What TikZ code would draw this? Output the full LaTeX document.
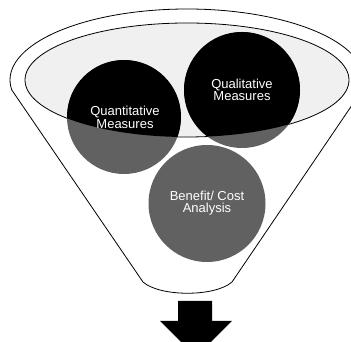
\documentclass[tikz,border=0pt]{standalone}
\usepackage{fontspec}
\setmainfont{Liberation Sans}
\tikzset{
  rim/.style={draw=black, line width=0.8pt, fill=white, line join=round},
  opening/.style={draw=black, line width=0.8pt, fill=black!6},
  ball/.style={fill=black!62},
  balltext/.style={text=white, align=center, font=\fontsize{13}{12.5}\selectfont, inner sep=0pt},
  bigarrow/.style={fill=black}
}
\begin{document}
\begin{tikzpicture}[x=1pt,y=1pt]
\useasboundingbox (0,0) rectangle (351,342);
\clip (0,0) rectangle (351,342);
% funnel body
\path[rim] (143,60) -- (11.8,252)
  arc[start angle=188.1, end angle=-8.1, x radius=177pt, y radius=71pt]
  -- (232,60) .. controls (215,45) and (160,45) .. cycle;
% opening
\path[opening] (187,262) ellipse[x radius=162pt, y radius=57pt];
% balls
\fill[ball] (124,225) circle[radius=57pt];
\fill[ball] (242,252) circle[radius=58pt];
\fill[ball] (207,138.5) circle[radius=58.5pt];
\begin{scope}
  \clip (187,262) ellipse[x radius=162pt, y radius=57pt];
  \fill[black] (124,225) circle[radius=57pt];
  \fill[black] (242,252) circle[radius=58pt];
  \fill[black] (207,138.5) circle[radius=58.5pt];
\end{scope}
\node[balltext] (quant) at (125,224.5) {Quantitative\\Measures};
\node[balltext] (qual) at (242,252) {Qualitative\\Measures};
\node[balltext] (ben) at (207,139) {Benefit/ Cost\\Analysis};
% arrow
\path[bigarrow] (178,41) -- (212,41) -- (212,21) -- (232,21) -- (196,-15)
  -- (160,21) -- (178,21) -- cycle;
\end{tikzpicture}
\end{document}
